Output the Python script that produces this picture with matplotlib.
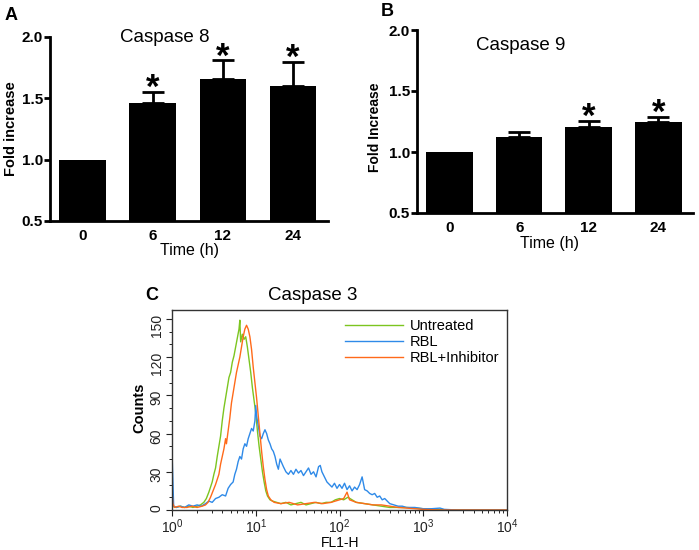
import numpy as np
import matplotlib
matplotlib.use("Agg")
import matplotlib.pyplot as plt

plt.rcParams['font.family'] = ['Liberation Sans', 'DejaVu Sans']

# panel A / B: caspase 8 and 9 fold increase
times = ['0', '6', '12', '24']
casp8_mean = [1.0, 1.465, 1.66, 1.60]
casp8_err = [0.0, 0.085, 0.15, 0.20]
casp8_star = [False, True, True, True]
casp9_mean = [1.0, 1.125, 1.207, 1.25]
casp9_err = [0.0, 0.04, 0.05, 0.04]
casp9_star = [False, False, True, True]

# panel C: flow histograms, x given as log10(FL1-H)
green_lx = [0.00, 0.05, 0.10, 0.15, 0.20, 0.25, 0.30, 0.34, 0.38, 0.41, 0.44, 0.46, 0.48, 0.50,
            0.52, 0.54, 0.56, 0.58, 0.60, 0.62, 0.64, 0.66, 0.68, 0.70, 0.72, 0.74, 0.76, 0.78,
            0.80, 0.81, 0.82, 0.84, 0.86, 0.88, 0.90, 0.92, 0.94, 0.96, 0.98, 1.00, 1.02, 1.04,
            1.06, 1.08, 1.10, 1.12, 1.14, 1.17, 1.20, 1.25, 1.30, 1.36, 1.42, 1.48, 1.54, 1.60,
            1.66, 1.72, 1.78, 1.84, 1.90, 1.95, 2.00, 2.05, 2.10, 2.15, 2.20, 2.30, 2.40, 2.50,
            2.60, 2.80, 3.00, 3.20, 3.30, 4.00]
green_ct = [3, 2, 3, 2, 3, 2, 3, 4, 6, 9, 14, 18, 22, 28,
            33, 42, 50, 58, 70, 80, 88, 96, 104, 108, 116, 121, 128, 135,
            142, 149, 132, 138, 134, 136, 128, 118, 108, 96, 86, 76, 62, 50,
            40, 30, 22, 15, 11, 8, 7, 6, 5, 6, 4, 5, 6, 4,
            5, 6, 5, 6, 6, 8, 9, 8, 10, 8, 6, 5, 4, 3,
            2, 2, 1, 0.5, 0, 0]

blue_lx = [0.00, 0.01, 0.02, 0.05, 0.10, 0.15, 0.20, 0.25, 0.30, 0.35, 0.40, 0.44, 0.48, 0.52,
           0.56, 0.60, 0.64, 0.67, 0.70, 0.73, 0.75, 0.77, 0.79, 0.81, 0.83, 0.85, 0.87, 0.89,
           0.91, 0.93, 0.95, 0.97, 0.99, 1.00, 1.01, 1.03, 1.05, 1.07, 1.09, 1.11, 1.13, 1.15,
           1.17, 1.19, 1.21, 1.23, 1.25, 1.27, 1.29, 1.31, 1.33, 1.36, 1.39, 1.42, 1.45, 1.48,
           1.51, 1.54, 1.57, 1.60, 1.63, 1.66, 1.69, 1.72, 1.75, 1.77, 1.79, 1.82, 1.85, 1.88,
           1.91, 1.94, 1.97, 2.00, 2.03, 2.06, 2.09, 2.12, 2.15, 2.18, 2.21, 2.24, 2.27, 2.30,
           2.33, 2.36, 2.39, 2.42, 2.45, 2.48, 2.51, 2.54, 2.57, 2.60, 2.65, 2.70, 2.75, 2.80,
           2.90, 3.00, 3.10, 3.20, 3.25, 3.40, 4.00]
blue_ct = [46, 24, 3, 2, 3, 2, 4, 3, 4, 3, 5, 7, 6, 9,
           10, 12, 11, 17, 20, 22, 28, 32, 38, 42, 40, 48, 52, 50,
           56, 60, 64, 62, 70, 82, 74, 66, 58, 56, 60, 63, 60, 55,
           52, 48, 46, 42, 36, 32, 40, 37, 34, 30, 28, 31, 28, 32,
           29, 31, 27, 30, 33, 28, 30, 26, 34, 35, 30, 26, 22, 20,
           18, 21, 17, 20, 17, 21, 16, 19, 15, 18, 16, 20, 26, 16,
           15, 13, 12, 13, 10, 11, 8, 9, 7, 5, 4, 3, 3, 2,
           2, 1, 1, 1.5, 0.5, 0, 0]

orange_lx = [0.00, 0.01, 0.03, 0.08, 0.12, 0.18, 0.24, 0.30, 0.36, 0.40, 0.43, 0.46, 0.49, 0.52,
             0.54, 0.56, 0.58, 0.60, 0.62, 0.64, 0.65, 0.67, 0.69, 0.71, 0.73, 0.75, 0.77, 0.79,
             0.81, 0.83, 0.85, 0.87, 0.89, 0.91, 0.93, 0.95, 0.97, 0.99, 1.01, 1.03, 1.05, 1.07,
             1.09, 1.11, 1.13, 1.15, 1.18, 1.22, 1.30, 1.40, 1.50, 1.60, 1.70, 1.80, 1.90, 1.95,
             2.00, 2.05, 2.09, 2.12, 2.20, 2.30, 2.40, 2.50, 2.60, 2.70, 2.80, 2.90, 3.00, 3.20,
             4.00]
orange_ct = [16, 5, 2, 3, 2, 2, 3, 2, 3, 4, 6, 10, 15, 20,
             24, 28, 36, 42, 48, 56, 52, 62, 72, 84, 92, 100, 108, 114,
             120, 128, 136, 142, 145, 142, 136, 126, 112, 100, 88, 74, 60, 46,
             34, 24, 16, 11, 8, 6, 5, 6, 4, 5, 6, 5, 6, 7,
             8, 9, 14, 8, 6, 5, 4, 4, 3, 2, 1.5, 1, 0.5, 0,
             0]

hist_labels = ['Untreated', 'RBL', 'RBL+Inhibitor']
hist_colors = ['#7cc520', '#2f8ae8', '#ff6a1a']

W, H = 699, 550
fig = plt.figure(figsize=(W / 100, H / 100), dpi=100)


def box(l, t, r, b):
    return [l / W, 1 - b / H, (r - l) / W, (b - t) / H]


def ftext(px, py, s, **kw):
    fig.text(px / W, 1 - py / H, s, ha='center', va='center', **kw)


def bar_panel(rect, means, errs, stars):
    ax = fig.add_axes(rect)
    x = np.arange(len(times))
    ax.bar(x, means, width=0.67, color='black', zorder=2)
    ax.errorbar(x[1:], means[1:], yerr=[np.zeros(len(x) - 1), errs[1:]], fmt='none',
                ecolor='black', elinewidth=2, capsize=8, capthick=2, zorder=1)
    for i, s in enumerate(stars):
        if s:
            ax.text(i, means[i] + errs[i] - 0.05, '*', ha='center', va='baseline',
                    fontsize=25, fontweight='bold')
    ax.set_xlim(-0.47, 3.5)
    ax.set_ylim(0.5, 2.0)
    ax.set_yticks([0.5, 1.0, 1.5, 2.0])
    ax.set_yticklabels(['0.5', '1.0', '1.5', '2.0'])
    ax.set_xticks(x)
    ax.set_xticklabels(times)
    for sp in ['top', 'right']:
        ax.spines[sp].set_visible(False)
    for sp in ['left', 'bottom']:
        ax.spines[sp].set_linewidth(2)
    ax.tick_params(axis='y', width=2, length=4, pad=1, labelsize=11)
    ax.tick_params(axis='x', length=0, pad=6, labelsize=11)
    for lab in ax.get_xticklabels() + ax.get_yticklabels():
        lab.set_fontweight('bold')
    return ax


# A
bar_panel(box(50, 37, 328, 221), casp8_mean, casp8_err, casp8_star)
ftext(11, 15, 'A', fontsize=13, fontweight='bold')
ftext(165, 37, 'Caspase 8', fontsize=13.5)
ftext(11, 129, 'Fold increase', fontsize=10.5, fontweight='bold', rotation=90)
ftext(190, 250, 'Time (h)', fontsize=11.5)

# B
bar_panel(box(417, 30, 693, 213), casp9_mean, casp9_err, casp9_star)
ftext(387, 11, 'B', fontsize=13, fontweight='bold')
ftext(521, 46, 'Caspase 9', fontsize=13.5)
ftext(375, 127, 'Fold Increase', fontsize=10, fontweight='bold', rotation=90)
ftext(549, 243, 'Time (h)', fontsize=11.5)

# C
axc = fig.add_axes(box(172, 310, 507, 510))
curves = [(green_lx, green_ct), (blue_lx, blue_ct), (orange_lx, orange_ct)]
for (lx, ct), lab, col in zip(curves, hist_labels, hist_colors):
    axc.plot(10 ** np.array(lx), ct, color=col, lw=1.0, label=lab)
axc.set_xscale('log')
axc.set_xlim(1, 1e4)
axc.set_ylim(0, 157)
axc.set_yticks([0, 30, 60, 90, 120, 150])
axc.set_yticks(np.arange(0, 157, 10), minor=True)
for sp in axc.spines.values():
    sp.set_linewidth(1)
    sp.set_color('#333333')
axc.tick_params(axis='both', which='major', length=4, width=0.8, labelsize=10, colors='#222222')
axc.tick_params(axis='both', which='minor', length=2, width=0.6)
axc.tick_params(axis='y', labelrotation=90, pad=2)
axc.tick_params(axis='x', pad=1)
axc.legend(loc='upper left', bbox_to_anchor=(0.516, 0.955), frameon=False, fontsize=10.5,
           handlelength=4.0, handletextpad=0.45, labelspacing=0.15, borderpad=0,
           borderaxespad=0)
ftext(152, 295, 'C', fontsize=13, fontweight='bold')
ftext(313, 295, 'Caspase 3', fontsize=13.5)
ftext(139, 408, 'Counts', fontsize=10.5, fontweight='bold', rotation=90)
ftext(340, 543, 'FL1-H', fontsize=10)

fig.savefig('out.png', dpi=100)
